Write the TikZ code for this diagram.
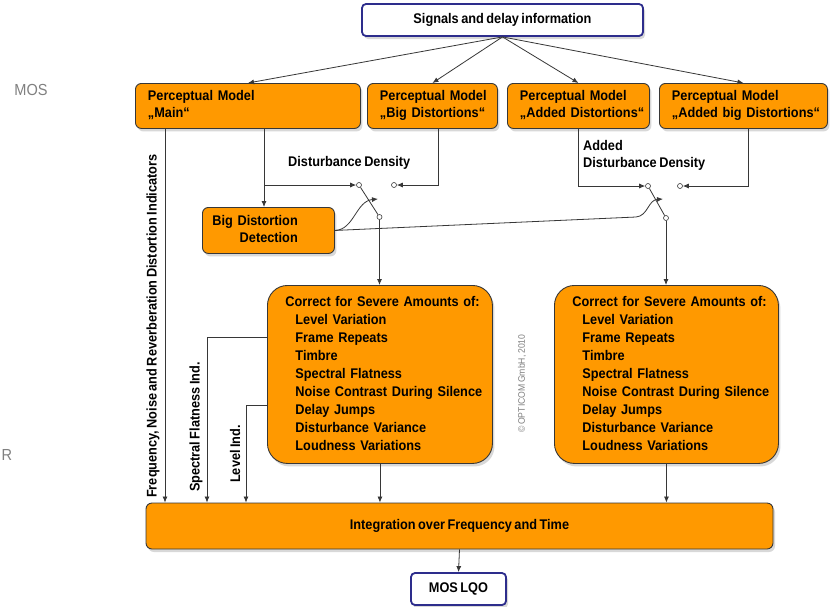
\documentclass[tikz,border=0pt]{standalone}
\usepackage{fontspec}
\setmainfont{Liberation Sans}[WordSpace=0.7,FakeStretch=0.91]
\usetikzlibrary{calc,arrows.meta,shadows}
\definecolor{opcorange}{RGB}{255,153,0}
\definecolor{opcnavy}{RGB}{45,45,140}
\definecolor{opcline}{RGB}{55,55,55}
\newcommand{\leftlines}[1]{\begin{tabular}{@{}l@{}}#1\end{tabular}}
\newcommand{\rightlines}[1]{\begin{tabular}{@{}r@{}}#1\end{tabular}}
\newcommand{\ind}{\hspace*{10pt}}
\tikzset{
    every node/.style={font=\bfseries\fontsize{14}{17}\selectfont}, % narrow bold labels
    boxshadow/.style={drop shadow={shadow xshift=2pt,shadow yshift=-3pt,opacity=.3}},
    orangebox/.style={draw=opcline,line width=.9pt,fill=opcorange,rounded corners=6pt,boxshadow},
    pmodel/.style={orangebox,anchor=north west,align=left,inner xsep=12.5pt,minimum height=45pt},
    correctbox/.style={orangebox,rounded corners=20pt,anchor=north west,align=left,inner xsep=18pt,
        text width=189pt,minimum height=178pt,font=\bfseries\fontsize{14}{18}\selectfont},
    iobox/.style={draw=opcnavy,line width=1.8pt,fill=white,rounded corners=4pt,boxshadow},
    sig/.style={draw=opcline,line width=.8pt,-{Latex[length=6pt,width=5pt]}},
    wire/.style={draw=opcline,line width=.8pt},
    contact/.style={circle,draw=opcline,line width=.6pt,fill=white,inner sep=0pt,minimum size=5pt},
    sidelabel/.style={rotate=90,anchor=west,inner sep=0pt}
}
\begin{document}
\begin{tikzpicture}[x=1pt,y=-1pt]
    \useasboundingbox[fill=white] (0,0) rectangle (838,606);
    % blocks
    \node[iobox,minimum width=281pt,minimum height=32pt] (signals) at (502.5,20) {Signals and delay information};
    \node[pmodel,text width=200pt] (pmmain) at (135,83) {\leftlines{Perceptual Model\\„Main“}};
    \node[pmodel,text width=105pt] (pmbig) at (367,83) {\leftlines{Perceptual Model\\„Big Distortions“}};
    \node[pmodel,text width=117pt] (pmadd) at (507,83) {\leftlines{Perceptual Model\\„Added Distortions“}};
    \node[pmodel,text width=143pt] (pmaddbig) at (659,83) {\leftlines{Perceptual Model\\„Added big Distortions“}};
    \node[orangebox,anchor=north west,align=left,text width=112pt,inner xsep=10pt,minimum height=46pt] (bdd) at (202,207)
        {\rightlines{Big Distortion\\Detection}};
    \node[correctbox] (cor1) at (267,285) {\leftlines{Correct for Severe Amounts of:\\
        \ind Level Variation\\ \ind Frame Repeats\\ \ind Timbre\\ \ind Spectral Flatness\\
        \ind Noise Contrast During Silence\\ \ind Delay Jumps\\ \ind Disturbance Variance\\
        \ind Loudness Variations}};
    \node[correctbox,text width=188pt] (cor2) at (554,285) {\leftlines{Correct for Severe Amounts of:\\
        \ind Level Variation\\ \ind Frame Repeats\\ \ind Timbre\\ \ind Spectral Flatness\\
        \ind Noise Contrast During Silence\\ \ind Delay Jumps\\ \ind Disturbance Variance\\
        \ind Loudness Variations}};
    \node[orangebox,minimum width=627pt,minimum height=46pt] (integ) at (459.5,526) {Integration over Frequency and Time};
    \node[iobox,minimum width=95pt,minimum height=32pt] (mos) at (458.5,589) {MOS LQO};

    % switches
    \node[contact] (c1a) at (359,185) {};
    \node[contact] (c1b) at (394,185) {};
    \node[contact] (p1) at (379.5,217) {};
    \node[contact] (c2a) at (648,186) {};
    \node[contact] (c2b) at (680,186) {};
    \node[contact] (p2) at (666,218) {};
    \draw[wire] (c1a) -- (p1);
    \draw[wire] (c2a) -- (p2);

    \coordinate (j1) at (264,185);
    \coordinate (j2) at (438,185);
    \coordinate (j3) at (578,186);
    \coordinate (j4) at (748,186);
    \coordinate (t1) at (378,199);
    \coordinate (t2) at (663,199);
    \coordinate (fq) at (165,300);
    \coordinate (sf) at (207,337);
    \coordinate (li) at (246,405);

    % connectors
    \foreach \pm in {pmmain,pmbig,pmadd,pmaddbig}
        \draw[sig] (signals.south) -- (\pm.north);
    \draw[wire] (pmmain.south -| j1) -- (j1);
    \draw[sig] (j1) -- (j1 |- bdd.north);
    \draw[sig] (j1) -- (c1a);
    \draw[sig] (pmbig.south -| j2) -- (j2) -- (c1b);
    \draw[sig] (pmadd.south -| j3) -- (j3) -- (c2a);
    \draw[sig] (pmaddbig.south -| j4) -- (j4) -- (c2b);
    \draw[sig] (bdd.east) .. controls (354,230) and (356,201) .. (t1);
    \draw[sig] (bdd.east) -- (636,217) .. controls (648,216) and (648,200) .. (t2);
    \draw[sig] (p1) -- (p1 |- cor1.north);
    \draw[sig] (p2) -- (p2 |- cor2.north);
    \draw[sig] (cor1.south) -- (cor1.south |- integ.north);
    \draw[sig] (cor2.south) -- (cor2.south |- integ.north);
    \draw[sig] (pmmain.south -| fq) -- (fq |- integ.north);
    \draw[sig] (cor1.west |- sf) -- (sf) -- (sf |- integ.north);
    \draw[sig] (cor1.west |- li) -- (li) -- (li |- integ.north);
    \draw[sig] (integ.south) -- (mos.north);

    % labels
    \node[anchor=west,inner sep=0pt] (dd) at (288,163) {Disturbance Density};
    \node[anchor=north west,align=left,inner sep=0pt] (add) at (583,140) {Added\\Disturbance Density};
    \node[sidelabel] (fqlab) at (153,498) {Frequency, Noise and Reverberation Distortion Indicators};
    \node[sidelabel] (sflab) at (196,492) {Spectral Flatness Ind.};
    \node[sidelabel] (lilab) at (235,483) {Level Ind.};
    \node[sidelabel,font=\fontsize{9.5}{11}\selectfont,text=black!50] (copy) at (522,433) {© OPTICOM GmbH, 2010};
    \node[font=\fontsize{16}{18}\selectfont,text=black!50] (mostxt) at (31,90) {MOS};
    \node[font=\fontsize{16}{18}\selectfont,text=black!50] (rtxt) at (7,455) {R};
\end{tikzpicture}
\end{document}
